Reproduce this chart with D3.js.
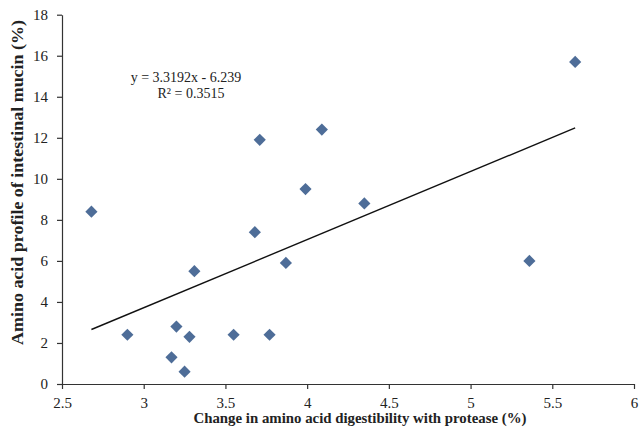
<!DOCTYPE html>
<html><head><meta charset="utf-8">
<script src="https://cdn.jsdelivr.net/npm/d3@7"></script>
<style>body{margin:0;background:#fff}svg{display:block}text{font-family:"Liberation Serif","Times New Roman",serif;fill:#222}</style>
</head><body><svg id="c" width="639" height="436"></svg>
<script>
const xValues = [2.68, 2.90, 3.17, 3.20, 3.25, 3.28, 3.31, 3.55, 3.68, 3.71, 3.77, 3.87, 3.99, 4.09, 4.35, 5.36, 5.64];
const yValues = [8.4, 2.4, 1.3, 2.8, 0.6, 2.3, 5.5, 2.4, 7.4, 11.9, 2.4, 5.9, 9.5, 12.4, 8.8, 6.0, 15.7];
const xTicks = [2.5, 3, 3.5, 4, 4.5, 5, 5.5, 6];
const yTicks = [0, 2, 4, 6, 8, 10, 12, 14, 16, 18];
const slope = 3.3192, intercept = -6.239;
const eqText = "y = 3.3192x - 6.239";
const r2Text = "R² = 0.3515";
const xLabel = "Change in amino acid digestibility with protease (%)";
const yLabel = "Amino acid profile of intestinal mucin (%)";

const svg = d3.select("#c");
const x = d3.scaleLinear().domain([2.5, 6]).range([62, 634]);
const y = d3.scaleLinear().domain([0, 18]).range([384, 14.7]);

const xAxis = svg.append("g").attr("transform", "translate(0,384)")
  .call(d3.axisBottom(x).tickValues(xTicks).tickFormat(d3.format("")).tickSize(5).tickSizeOuter(0).tickPadding(8));
const yAxis = svg.append("g").attr("transform", "translate(62,0)")
  .call(d3.axisLeft(y).tickValues(yTicks).tickFormat(d3.format("")).tickSize(5).tickSizeOuter(0).tickPadding(9));
[xAxis, yAxis].forEach(g => {
  g.selectAll("path,line").attr("stroke", "#333").attr("stroke-width", 1.2);
  g.selectAll("text").attr("font-size", 15).attr("font-family", '"Liberation Serif",serif').attr("fill", "#222");
});

// trend line
const xmin = d3.min(xValues), xmax = d3.max(xValues);
svg.append("line")
  .attr("x1", x(xmin)).attr("y1", y(slope * xmin + intercept))
  .attr("x2", x(xmax)).attr("y2", y(slope * xmax + intercept))
  .attr("stroke", "#111").attr("stroke-width", 1.4);

// points
const pts = xValues.map((v, i) => [v, yValues[i]]);
svg.append("g").selectAll("path").data(pts).join("path")
  .attr("d", d3.symbol(d3.symbolSquare, 74)())
  .attr("transform", d => `translate(${x(d[0])},${y(d[1])}) rotate(45)`)
  .attr("fill", "#4e6d98");

// equation
svg.append("text").attr("x", 186).attr("y", 82).attr("text-anchor", "middle").attr("font-size", 14).text(eqText);
svg.append("text").attr("x", 191).attr("y", 98).attr("text-anchor", "middle").attr("font-size", 14).text(r2Text);

// axis labels
svg.append("text").attr("x", 360).attr("y", 423).attr("text-anchor", "middle")
  .attr("font-size", 15).attr("font-weight", "bold")
  .attr("textLength", 333).attr("lengthAdjust", "spacingAndGlyphs").text(xLabel);
svg.append("text").attr("transform", "translate(23,182.5) rotate(-90)").attr("text-anchor", "middle")
  .attr("font-size", 16).attr("font-weight", "bold")
  .attr("textLength", 325).attr("lengthAdjust", "spacingAndGlyphs").text(yLabel);
</script></body></html>
